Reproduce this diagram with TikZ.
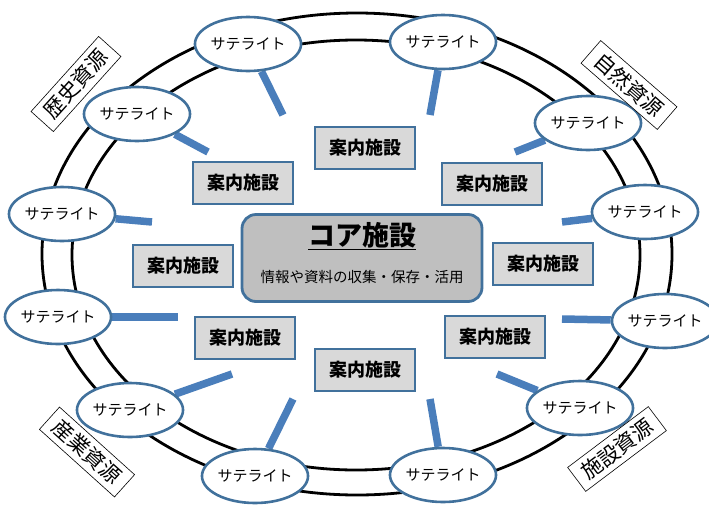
\documentclass[tikz,border=0pt]{standalone}
\usepackage{fontspec}
\setmainfont{Noto Sans CJK JP}
\usetikzlibrary{shapes.geometric}
\definecolor{satblue}{HTML}{41719C}
\definecolor{linkblue}{HTML}{4A7EBB}
\definecolor{boxgray}{HTML}{D9D9D9}
\definecolor{coregray}{HTML}{BFBFBF}
\pgfdeclarelayer{bg}
\pgfsetlayers{bg,main}
\begin{document}
\begin{tikzpicture}[x=1pt,y=-1pt,
  sat/.style={ellipse,draw=satblue,line width=2.6pt,fill=white,minimum width=96pt,minimum height=54pt,inner sep=0pt,font=\fontsize{15}{15}\selectfont},
  guide/.style={rectangle,draw=satblue,line width=2.6pt,fill=boxgray,minimum width=100pt,minimum height=42pt,inner sep=0pt,font=\fontsize{18}{18}\selectfont\bfseries},
  conn/.style={draw=linkblue,line width=7.5pt},
  ring/.style={draw=black,line width=2.8pt},
  area/.style={draw=black,line width=0.6pt,fill=white,minimum width=101pt,minimum height=30pt,inner sep=0pt,font=\fontsize{21}{21}\selectfont},
  core/.style={rectangle,rounded corners=14pt,draw=satblue,line width=2.8pt,fill=coregray,minimum width=240pt,minimum height=87pt,inner sep=0pt}]
\useasboundingbox (0,0) rectangle (709,504);

% satellites
\node[sat] (s1) at (248,44) {サテライト};
\node[sat] (s2) at (443,42) {サテライト};
\node[sat] (s3) at (137,114) {サテライト};
\node[sat] (s4) at (588,123) {サテライト};
\node[sat] (s5) at (62,214) {サテライト};
\node[sat] (s6) at (645,212) {サテライト};
\node[sat] (s7) at (58,317) {サテライト};
\node[sat] (s8) at (665,321) {サテライト};
\node[sat] (s9) at (130,410) {サテライト};
\node[sat] (s10) at (580,408) {サテライト};
\node[sat] (s11) at (255,476) {サテライト};
\node[sat] (s12) at (443,475) {サテライト};

% guide facilities
\node[guide] (g1) at (365,148) {案内施設};
\node[guide] (g2) at (243,183) {案内施設};
\node[guide] (g3) at (492,184) {案内施設};
\node[guide] (g4) at (183,266) {案内施設};
\node[guide] (g5) at (543,264) {案内施設};
\node[guide] (g6) at (245,338) {案内施設};
\node[guide] (g7) at (495,337) {案内施設};
\node[guide] (g8) at (365,370) {案内施設};

% core
\node[core] (core) at (362,258) {};
\node[font=\fontsize{27}{27}\selectfont\bfseries] (coretitle) at (362,236) {\underline{コア施設}};
\node[font=\fontsize{14.5}{14.5}\selectfont] (coresub) at (362,277) {情報や資料の収集・保存・活用};

% area labels
\node[area,rotate=48] (a1) at (76,84) {歴史資源};
\node[area,rotate=-41] (a2) at (629,85) {自然資源};
\node[area,rotate=-42] (a3) at (87,452) {産業資源};
\node[area,rotate=37] (a4) at (617,449) {施設資源};

% connector free ends
\coordinate (e1) at (283,115);
\coordinate (e2) at (430,115);
\coordinate (e3) at (208,152);
\coordinate (e4) at (515,152);
\coordinate (e5) at (152,222);
\coordinate (e6) at (562,222);
\coordinate (e7) at (178,317);
\coordinate (e8) at (562,319);
\coordinate (e9) at (232,374);
\coordinate (e10) at (497,374);
\coordinate (e11) at (293,399);
\coordinate (e12) at (430,399);

\begin{pgfonlayer}{bg}
  \draw[ring] (357,254) ellipse [x radius=315pt, y radius=241pt];
  \draw[ring] (356,255) ellipse [x radius=284pt, y radius=215pt];
  \foreach \i in {1,...,12} { \draw[conn] (s\i) -- (e\i); }
\end{pgfonlayer}
\end{tikzpicture}
\end{document}
